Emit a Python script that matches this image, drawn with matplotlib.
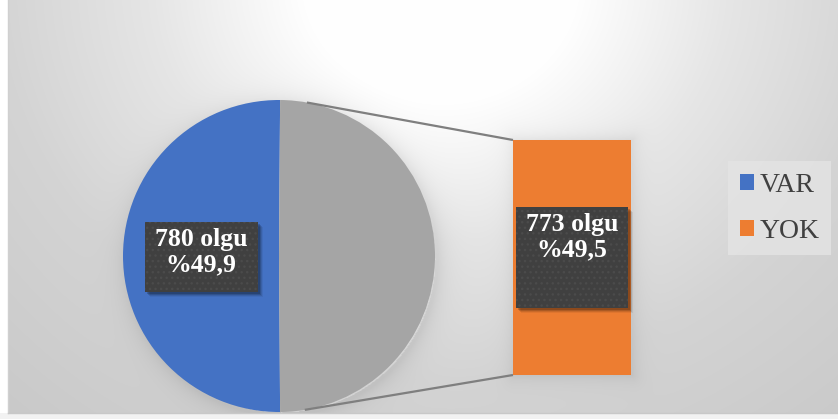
import numpy as np
import matplotlib
matplotlib.use("Agg")
import matplotlib.pyplot as plt
from matplotlib.patches import Rectangle, Patch

# data: pie of bar, VAR vs YOK cases
labels = ["VAR", "YOK"]
counts = [780, 773]
pct_text = ["%49,9", "%49,5"]

BLUE = "#4472C4"
ORANGE = "#ED7D31"
GRAY = "#A5A5A5"
TXT = "#404040"

W, H = 838, 419
plt.rcParams['font.family'] = ['Liberation Serif', 'DejaVu Serif']

fig = plt.figure(figsize=(W / 100, H / 100), dpi=100)
fig.patch.set_facecolor("white")
ax = fig.add_axes([0, 0, 1, 1])

# pixel helper: y measured from the top
def py(y):
    return H - y

# chart area background: soft radial gradient, white at top centre
cx, cy, r = 279, 163, 156          # pie centre / radius (data coords)
bx0, bx1, by0, by1 = 513, 631, 140, 375   # bar box in pixels (top-down)
yy, xx = np.mgrid[0:H, 0:W].astype(float)
d = np.hypot((xx - 440) * 0.9, yy + 20)
bg = np.interp(d, [0, 120, 260, 400, 620], [1.0, 1.0, 0.9, 0.83, 0.78])
# soft shadow around the pie and the bar
dp = np.hypot(xx - cx - 2, (H - yy) - cy + 3) - r
bg -= 0.07 * np.exp(-np.clip(dp, 0, None) / 10.0) * (dp > -3)
ddx = np.maximum(np.maximum(bx0 - xx, xx - bx1), 0)
ddy = np.maximum(np.maximum(by0 - yy, yy - by1), 0)
dr = np.hypot(ddx, ddy)
bg -= 0.06 * np.exp(-dr / 8.0)
bg = np.clip(bg, 0, 1)
img = np.dstack([bg, bg, bg])
ax.imshow(img, extent=(0, W, 0, H), origin="upper", zorder=0, aspect="auto")
# white strip on the left and bottom, frame line
ax.add_patch(Rectangle((0, 0), 8, H, facecolor="white", edgecolor="none", zorder=1))
ax.add_patch(Rectangle((0, 0), W, H - 413, facecolor="#f2f2f2", edgecolor="none", zorder=1))
ax.plot([8, 8], [H - 413, H], color="#d0d0d0", lw=1, zorder=1)
ax.plot([8, W], [H - 413, H - 413], color="#c8c8c8", lw=1, zorder=1)

# pie: the YOK part is the grey slice that gets exploded into the bar
other_span = counts[1] / sum(counts) * 360
wedges, _ = ax.pie(counts, colors=[BLUE, GRAY], startangle=other_span / 2,
                   center=(cx, cy), radius=r, frame=True,
                   wedgeprops=dict(linewidth=0))
for w in wedges:
    w.set_zorder(3)
ax.set_xlim(0, W)
ax.set_ylim(0, H)
ax.set_aspect("auto")
ax.axis("off")

# bar of the second plot
bax = fig.add_axes([bx0 / W, (H - by1) / H, (bx1 - bx0) / W, (by1 - by0) / H])
bax.bar([0], [counts[1]], width=1.0, color=ORANGE, linewidth=0)
bax.set_xlim(-0.5, 0.5)
bax.set_ylim(0, counts[1])
bax.axis("off")

# connector lines: tangents from the bar corners to the circle
for corner_y, sgn in [(py(by0), 1), (py(by1), -1)]:
    vx, vy = bx0 - cx, corner_y - cy
    dist = np.hypot(vx, vy)
    ang = np.arctan2(vy, vx) + sgn * np.arccos(r / dist)
    tx, ty = cx + r * np.cos(ang), cy + r * np.sin(ang)
    ax.plot([tx, bx0], [ty, corner_y], color="#7f7f7f", lw=1.6, zorder=4,
            solid_capstyle="butt")

# data labels on dark dotted boxes
def label_box(x0, y0, w, h, text):
    for k, a in [(5, 0.06), (4, 0.10), (3, 0.14), (2, 0.18)]:
        fig.patches.append(Rectangle(((x0 + k) / W, (H - y0 - h - k) / H), w / W, h / H,
                                     transform=fig.transFigure, facecolor="black",
                                     alpha=a, edgecolor="none", zorder=5))
    fig.patches.append(Rectangle((x0 / W, (H - y0 - h) / H), w / W, h / H,
                                 transform=fig.transFigure, facecolor="#404040",
                                 edgecolor="#4b4b4b", hatch="...", linewidth=0, zorder=6))
    fig.text((x0 + w / 2) / W, (H - y0 - 6) / H, text, ha="center", va="top",
             color="white", fontsize=18.5, fontweight="bold", linespacing=1.15, zorder=7)

lab_x = cx - 0.5 * r
label_box(lab_x - 56.5, 222, 113, 70, f"{counts[0]} olgu\n{pct_text[0]}")
label_box((bx0 + bx1) / 2 - 56, 207, 112, 101, f"{counts[1]} olgu\n{pct_text[1]}")

# legend
handles = [Patch(facecolor=BLUE, edgecolor="none"), Patch(facecolor=ORANGE, edgecolor="none")]
leg = fig.legend(handles, labels, loc="upper left", bbox_to_anchor=(728 / W, py(161) / H),
                 frameon=True, fontsize=20, handlelength=0.52, handleheight=0.52,
                 handletextpad=0.2, labelspacing=0.75, borderpad=0.42,
                 borderaxespad=0, fancybox=False)
leg.get_frame().set_facecolor("#e4e4e4")
leg.get_frame().set_edgecolor("none")
leg.get_frame().set_alpha(0.8)
for t in leg.get_texts():
    t.set_color(TXT)

fig.savefig("out.png", dpi=100)
